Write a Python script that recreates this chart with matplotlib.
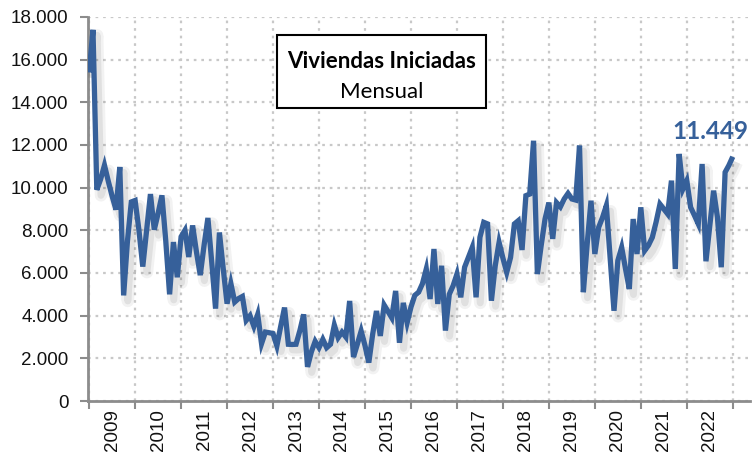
import matplotlib
matplotlib.use("Agg")
import matplotlib.pyplot as plt
import matplotlib.patheffects as pe
from matplotlib.patches import Rectangle
import numpy as np

# Monthly housing starts, Jan 2009 .. Jan 2023
viviendas = [
    # 2009
    15400, 17400, 9900, 10400, 11050, 10300, 9600, 8970, 10970, 4950, 7500, 9330,
    # 2010
    9400, 8000, 6300, 8000, 9700, 8030, 8800, 9640, 7500, 5000, 7450, 5800,
    # 2011
    7700, 8000, 6750, 8230, 7000, 5900, 7300, 8580, 6500, 4330, 7900, 6200,
    # 2012
    4560, 5500, 4640, 4800, 4900, 3780, 4000, 3500, 4060, 2690, 3230, 3200,
    # 2013
    3160, 2580, 3500, 4380, 2660, 2650, 2660, 3300, 4060, 1600, 2300, 2800,
    # 2014
    2500, 2890, 2500, 2660, 3560, 2970, 3230, 3000, 4690, 2060, 2660, 3280,
    # 2015
    2600, 1800, 3125, 4220, 3050, 4500, 4200, 3900, 5160, 2730, 4600, 3670,
    # 2016
    4400, 4950, 5100, 5500, 6190, 4780, 7125, 4550, 6340, 3300, 5000, 5400,
    # 2017
    5950, 4860, 6270, 6730, 7200, 4860, 7670, 8375, 8300, 4700, 6340, 7440,
    # 2018
    6700, 6030, 6730, 8300, 8450, 7080, 9625, 9700, 12200, 5950, 7300, 8530,
    # 2019
    9300, 7600, 9300, 9100, 9470, 9730, 9470, 9420, 11970, 5100, 7360, 9390,
    # 2020
    6890, 8140, 8600, 9160, 6700, 4230, 6580, 7200, 6200, 5250, 8530, 6890,
    # 2021
    9080, 7050, 7300, 7670, 8400, 9230, 9000, 8770, 10330, 6190, 11580, 9940,
    # 2022
    10330, 9080, 8700, 8300, 11110, 6550, 8200, 9860, 8610, 6270, 10720, 11050,
    # 2023
    11449,
]
years = [str(y) for y in range(2009, 2023)]
y_ticks = list(range(0, 18001, 2000))

LINE_COLOR = "#36609a"
GRID_COLOR = "#c8c8c8"
AXIS_COLOR = "#8c8c8c"

fig = plt.figure(figsize=(7.54, 4.59), dpi=100)
ax = fig.add_axes([88 / 754, 1 - 401 / 459, (750 - 88) / 754, (401 - 17) / 459])

x = np.arange(len(viviendas))
ax.plot(x, viviendas, color=LINE_COLOR, lw=3.8, solid_joinstyle="miter",
        solid_capstyle="butt", zorder=3,
        path_effects=[pe.SimpleLineShadow(offset=(3, -4), shadow_color="#000000", alpha=0.05,
                                          linewidth=9, joinstyle="round"),
                      pe.SimpleLineShadow(offset=(3, -4), shadow_color="#000000", alpha=0.07,
                                          linewidth=5, joinstyle="round"),
                      pe.Normal()])

ax.set_xlim(-0.3, 172.5)
ax.set_ylim(0, 18000)

# x ticks: year boundaries (marks + grid), labels centered within each year
ax.set_xticks(np.arange(0, 12 * len(years) + 1, 12))
ax.set_xticklabels([])
ax.set_xticks(np.arange(6, 12 * len(years), 12), minor=True)
ax.set_xticklabels(years, minor=True, rotation=90, fontsize=13.5,
                   family="Liberation Sans", color="#111111")
ax.tick_params(axis="x", which="minor", length=0, pad=6)
ax.tick_params(axis="x", which="major", length=6, width=1.5, color=AXIS_COLOR, direction="out")

ax.set_yticks(y_ticks)
ax.set_yticklabels([f"{v:,}".replace(",", ".") for v in y_ticks], fontsize=13.5,
                   family="Liberation Sans", color="#111111")
ax.tick_params(axis="y", length=6, width=1.5, color=AXIS_COLOR, direction="out", pad=8)

ax.grid(True, which="major", color=GRID_COLOR, linestyle=(0, (1.2, 2.2)), lw=1.6)
ax.set_axisbelow(True)

for s in ["top", "right"]:
    ax.spines[s].set_visible(False)
for s in ["left", "bottom"]:
    ax.spines[s].set_color(AXIS_COLOR)
    ax.spines[s].set_linewidth(2)
ax.spines["bottom"].set_path_effects([pe.SimplePatchShadow(offset=(1, -3), shadow_rgbFace="#888888", alpha=0.3),
                                      pe.Normal()])

# Title box
box = Rectangle((0.285, 0.763), 0.316, 0.19, transform=ax.transAxes,
                facecolor="white", edgecolor="black", lw=1.5, zorder=5)
ax.add_patch(box)
ax.text(0.443, 0.885, "Viviendas Iniciadas", transform=ax.transAxes, ha="center", va="center",
        fontsize=16, fontweight="bold", family="Lato", color="black", zorder=6)
ax.text(0.443, 0.805, "Mensual", transform=ax.transAxes, ha="center", va="center",
        fontsize=16, family="Lato", color="black", zorder=6)

# Last value label
last = viviendas[-1]
ax.annotate(f"{last:,}".replace(",", "."), xy=(x[-1], last), xytext=(11, 10),
            textcoords="offset points", ha="right", va="bottom",
            fontsize=17.5, fontweight="bold", family="Lato", color=LINE_COLOR, zorder=6)

fig.savefig("out.png", dpi=100, facecolor="white")
